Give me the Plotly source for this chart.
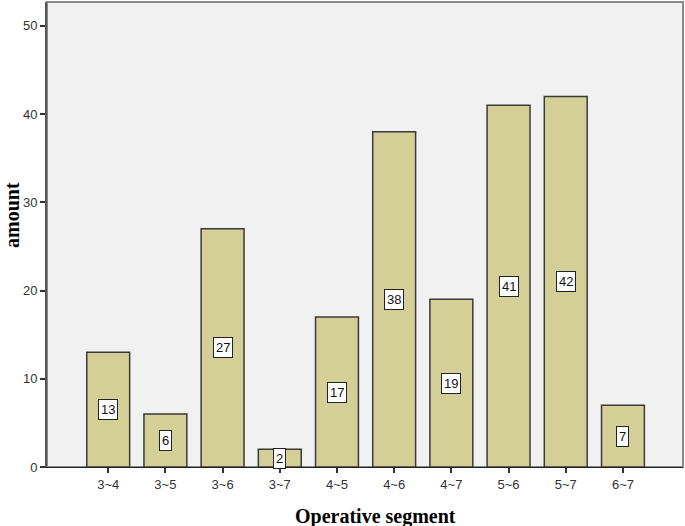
import plotly.graph_objects as go

categories = ["3~4", "3~5", "3~6", "3~7", "4~5", "4~6", "4~7", "5~6", "5~7", "6~7"]
amounts = [13, 6, 27, 2, 17, 38, 19, 41, 42, 7]
y_ticks = [0, 10, 20, 30, 40, 50]

fig = go.Figure()
fig.add_trace(go.Bar(
    x=categories, y=amounts, width=0.75,
    marker=dict(color="#D3CF97", line=dict(color="#3a3a3a", width=1.5)),
    hoverinfo="x+y",
))

for c, v in zip(categories, amounts):
    fig.add_annotation(
        x=c, y=v / 2, text=str(v), showarrow=False,
        font=dict(family="Arial, Liberation Sans", size=13, color="#111"),
        bgcolor="white", bordercolor="#222", borderwidth=1, borderpad=2,
    )

fig.add_annotation(
    text="<b>Operative segment</b>", xref="paper", yref="paper", x=0.516, y=0,
    yshift=-49, yanchor="middle", showarrow=False,
    font=dict(family="Times New Roman, Liberation Serif", size=20, color="black"),
)
fig.add_annotation(
    text="<b>amount</b>", xref="paper", yref="paper", x=0, y=0.542,
    xshift=-35, xanchor="center", yanchor="middle", textangle=-90, showarrow=False,
    font=dict(family="Times New Roman, Liberation Serif", size=20, color="black"),
)

fig.update_layout(
    width=685, height=526,
    margin=dict(l=47, r=2, t=2, b=59, autoexpand=False),
    paper_bgcolor="white", plot_bgcolor="#F1F1F1",
    showlegend=False,
    bargap=0.25,
    xaxis=dict(
        type="category", range=[-1.07, 10.05], automargin=False,
        showline=True, linecolor="#222", linewidth=1,
        ticks="outside", ticklen=5, tickcolor="#333", tickwidth=2,
        tickfont=dict(family="Arial, Liberation Sans", size=13, color="#333"),
        showgrid=False,
    ),
    yaxis=dict(
        range=[0, 52.7], tickvals=y_ticks, automargin=False,
        showline=True, linecolor="#555", linewidth=2,
        ticks="outside", ticklen=5, tickcolor="#333", tickwidth=2,
        tickfont=dict(family="Arial, Liberation Sans", size=13, color="#333"),
        showgrid=False, zeroline=False,
    ),
    shapes=[dict(type="rect", xref="paper", yref="paper", x0=0, x1=1, y0=0, y1=1,
                 line=dict(color="#8a8a8a", width=2), layer="below")],
)

fig.write_html(
    "out.html",
    config={"displayModeBar": False},
    post_script="document.body.style.margin='0px';document.body.style.overflow='hidden';",
)
